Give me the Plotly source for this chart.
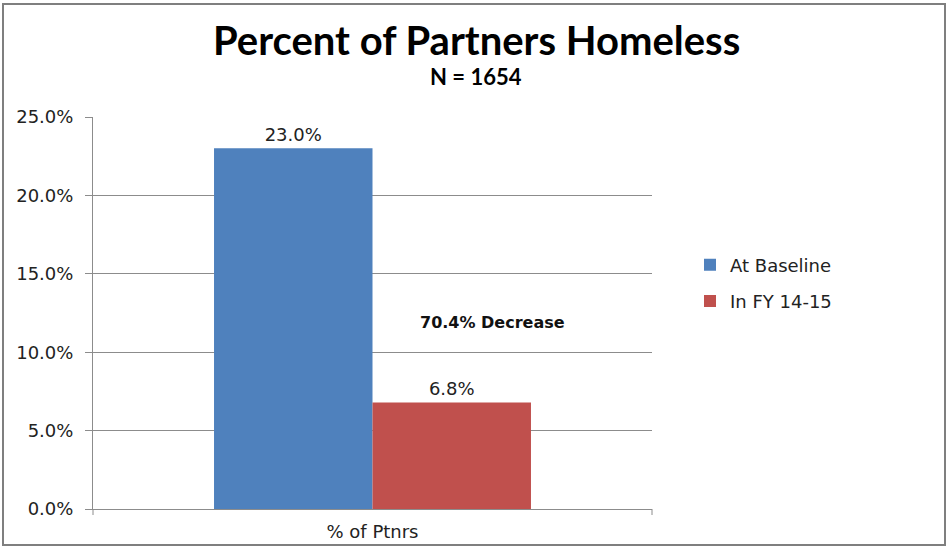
import plotly.graph_objects as go

# Share of partners who were homeless, at baseline vs. FY 14-15
categories = ["% of Ptnrs"]
series_names = ["At Baseline", "In FY 14-15"]
baseline_pct = [23.0]
fy1415_pct = [6.8]
series_colors = ["#4F81BD", "#C0504D"]
y_ticks = [0, 5, 10, 15, 20, 25]
chart_title = "Percent of Partners Homeless"
chart_subtitle = "N = 1654"
change_label = "70.4% Decrease"

W, H = 948, 549
L, R, T, B = 93, 296, 117, 40
PW, PH = W - L - R, H - T - B
FONT = "DejaVu Sans"
TEXT = "#222"
AXIS = "#8c8c8c"


def px(x):
    return (x - L) / PW


def py(y):
    return (H - B - y) / PH


fig = go.Figure()
for i, (name, vals, color) in enumerate(zip(series_names, [baseline_pct, fy1415_pct], series_colors)):
    fig.add_trace(go.Bar(
        x=categories, y=vals, name=name, legendgroup=f"g{i}",
        marker=dict(color=color, line=dict(width=0)),
        text=[f"{v:.1f}%" for v in vals], textposition="outside",
        textfont=dict(family=FONT, size=18, color=TEXT),
        cliponaxis=False,
    ))

# title block, centred on the whole figure
fig.add_annotation(
    x=px(W / 2 + 2), y=py(40), xref="paper", yref="paper",
    text=f"<b>{chart_title}</b>", showarrow=False,
    xanchor="center", yanchor="middle",
    font=dict(family="Lato", size=40, color="black"),
)
fig.add_annotation(
    x=px(W / 2 + 2), y=py(76), xref="paper", yref="paper",
    text=f"<b>{chart_subtitle}</b>", showarrow=False,
    xanchor="center", yanchor="middle",
    font=dict(family="Lato", size=22, color="black"),
)
fig.add_annotation(
    x=px(492), y=py(322), xref="paper", yref="paper",
    xanchor="center", yanchor="middle",
    text=f"<b>{change_label}</b>", showarrow=False,
    font=dict(family=FONT, size=16, color="#111"),
)

fig.update_layout(
    width=W, height=H,
    margin=dict(l=L, r=R, t=T, b=B, pad=0, autoexpand=False),
    paper_bgcolor="white", plot_bgcolor="white",
    barmode="group", bargap=0.433, bargroupgap=0,
    showlegend=True,
    legend=dict(
        x=px(690), y=py(283), xanchor="left", yanchor="middle",
        font=dict(family=FONT, size=18, color=TEXT),
        bgcolor="rgba(0,0,0,0)", traceorder="grouped", tracegroupgap=10,
    ),
    yaxis=dict(
        range=[0, 25], tickvals=y_ticks,
        ticktext=[f"{v:.1f}%" for v in y_ticks],
        showgrid=True, gridcolor=AXIS, gridwidth=1,
        showline=True, linecolor=AXIS, linewidth=1,
        ticks="outside", ticklen=7, tickcolor=AXIS,
        ticklabelstandoff=8, automargin=False,
        tickfont=dict(family=FONT, size=18, color=TEXT),
        zeroline=False, fixedrange=True,
    ),
    xaxis=dict(
        showline=True, linecolor=AXIS, linewidth=1,
        ticks="", ticklabelstandoff=6, automargin=False,
        tickfont=dict(family=FONT, size=18, color=TEXT),
        fixedrange=True,
    ),
    shapes=[
        # outer chart border
        dict(type="rect", xref="paper", yref="paper",
             x0=px(3), x1=px(945), y0=py(545), y1=py(4),
             line=dict(color="#7f7f7f", width=2), fillcolor="rgba(0,0,0,0)", layer="below"),
        # small end ticks on the category axis
        dict(type="line", xref="paper", yref="paper",
             x0=0, x1=0, y0=0, y1=py(515), line=dict(color=AXIS, width=1)),
        dict(type="line", xref="paper", yref="paper",
             x0=1, x1=1, y0=0, y1=py(515), line=dict(color=AXIS, width=1)),
    ],
)

fig.write_html("out.html")
